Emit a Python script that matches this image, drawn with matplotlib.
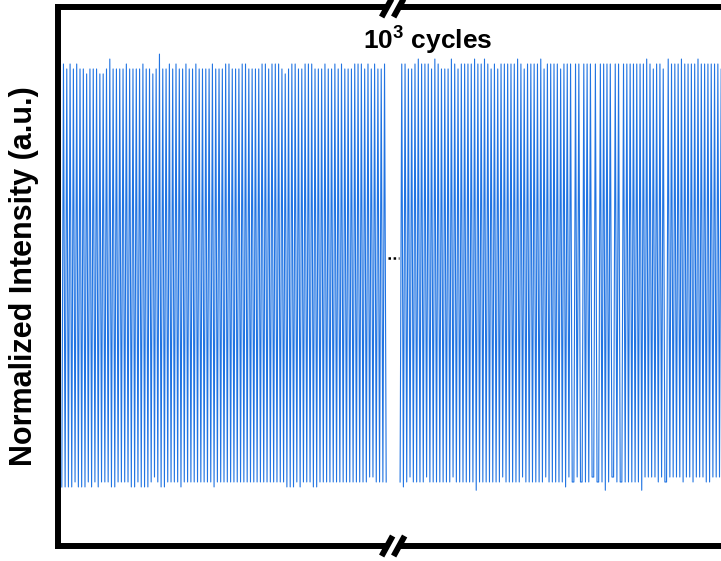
import numpy as np
import matplotlib
matplotlib.use('Agg')
import matplotlib.pyplot as plt

#==============================================================================
# Data (normalized intensity per cycle)
#==============================================================================
# segment before the axis break: peak / trough level of each switching cycle
peaks_1 = [1.012, 1.0, 1.012, 1.0, 1.012, 1.0, 1.0, 0.988, 1.0, 1.0,
           1.0, 0.988, 0.988, 1.0, 1.024, 1.0, 1.0, 1.0, 1.0, 1.012,
           1.0, 1.0, 1.0, 1.0, 1.012, 1.0, 1.0, 0.988, 1.0, 1.036,
           1.0, 1.0, 1.012, 1.0, 1.012, 1.0, 1.0, 1.012, 1.0, 1.0,
           1.012, 1.0, 1.0, 1.0, 1.0, 1.012, 1.0, 1.0, 1.0, 1.012,
           1.012, 1.0, 1.0, 1.0, 1.012, 1.012, 1.0, 1.0, 1.0, 1.0,
           1.012, 1.012, 1.0, 1.012, 1.012, 1.012, 1.0, 0.988, 1.0, 1.012,
           1.012, 1.0, 1.0, 1.012, 1.012, 1.012, 1.0, 1.0, 1.0, 1.012,
           1.0, 1.0, 1.012, 1.0, 1.012, 1.0, 1.0, 1.0, 1.012, 1.012,
           1.012, 1.0, 1.012, 1.0, 1.012, 1.0, 1.0, 1.012]
troughs_1 = [-0.012, -0.012, -0.012, -0.012, 0.0, -0.012, -0.012, -0.012, 0.0, -0.012,
             0.0, -0.012, 0.0, 0.0, 0.0, -0.012, -0.012, 0.0, 0.0, 0.0,
             0.0, -0.012, -0.012, 0.0, -0.012, -0.012, -0.012, 0.0, 0.012, 0.0,
             -0.012, -0.012, 0.0, 0.0, 0.0, 0.0, -0.012, 0.0, 0.0, 0.0,
             0.0, 0.0, 0.0, 0.0, 0.0, 0.0, -0.012, 0.0, 0.0, 0.0,
             0.0, 0.0, 0.0, 0.0, 0.0, 0.0, 0.0, 0.0, 0.0, 0.0,
             0.0, 0.0, 0.0, 0.0, 0.0, 0.0, 0.0, 0.0, -0.012, -0.012,
             -0.012, 0.0, -0.012, 0.0, 0.0, 0.0, -0.012, -0.012, 0.0, 0.0,
             0.0, 0.0, 0.0, 0.0, 0.0, 0.0, 0.0, 0.0, 0.0, 0.0,
             0.0, 0.0, 0.0, 0.012, 0.012, 0.0, 0.0, 0.0, 0.0]

# segment after 10^3 cycles
peaks_2 = [1.012, 1.012, 1.0, 1.0, 1.012, 1.024, 1.012, 1.012, 1.012, 1.0,
           1.024, 1.012, 1.0, 1.0, 1.0, 1.024, 1.012, 1.0, 1.012, 1.012,
           1.012, 1.012, 1.024, 1.012, 1.012, 1.024, 1.012, 1.0, 1.012, 1.0,
           1.012, 1.012, 1.012, 1.012, 1.012, 1.024, 1.012, 1.0, 1.012, 1.012,
           1.012, 1.012, 1.024, 1.0, 1.012, 1.012, 1.012, 1.012, 1.0, 1.012,
           1.012, 1.012, 1.012, 1.012, 1.012, 1.012, 1.012, 1.012, 1.012, 1.012,
           1.012, 1.012, 1.012, 1.012, 1.012, 1.012, 1.012, 1.012, 1.012, 1.012,
           1.012, 1.024, 1.012, 1.0, 1.012, 1.012, 1.0, 1.024, 1.012, 1.012,
           1.012, 1.024, 1.012, 1.012, 1.012, 1.012, 1.024, 1.012, 1.012, 1.012,
           1.012, 1.012, 1.012, 1.0, 1.012, 1.012, 1.024, 1.012, 1.012, 1.012]
troughs_2 = [0.0, -0.012, 0.0, 0.012, 0.0, 0.0, 0.0, 0.0, 0.012, 0.0,
             0.0, 0.0, 0.0, 0.0, 0.0, 0.0, 0.012, 0.0, 0.0, 0.0,
             0.0, 0.0, 0.0, -0.02, 0.0, 0.0, 0.0, 0.0, 0.0, 0.0,
             0.0, 0.012, 0.0, 0.0, 0.0, 0.0, 0.0, 0.012, 0.0, 0.0,
             0.0, 0.0, 0.0, 0.0, 0.012, 0.0, 0.0, 0.0, 0.0, 0.0,
             -0.012, 0.012, 0.0, 0.012, 0.0, 0.0, 0.0, 0.012, 0.0, 0.0,
             -0.02, 0.0, 0.012, 0.0, 0.0, 0.0, 0.0, 0.0, 0.0, 0.0,
             -0.02, 0.012, 0.012, 0.012, 0.012, 0.0, 0.012, 0.0, 0.012, 0.012,
             0.012, 0.012, 0.0, 0.012, 0.012, 0.0, 0.012, 0.012, 0.012, 0.0,
             0.0, 0.012, 0.012, 0.012, 0.012, 0.012, 0.0, 0.012, 0.012, 0.012,
             0.012]
# cycles of segment 2 followed by a slightly longer pause
pauses_2 = [51, 53, 56, 57, 61, 63, 76]
pause_len = 0.5

seg2_start = 102.2      # cycle axis position where the 2nd segment begins
cycles_text = r'$10^3$ cycles'
ylabel_text = 'Normalized Intensity (a.u.)'

line_color = '#2174e2'

#==============================================================================
# Build triangle-like switching trace from per-cycle peak/trough levels
def trace(troughs, peaks, start, pauses=(), pause=0.5):
    x, y = [], []
    t = start
    for i in range(len(peaks)):
        x += [t, t + 0.5]
        y += [troughs[i], peaks[i]]
        t += 1.0
        if i in pauses:
            x.append(t)
            y.append(troughs[i + 1])
            t += pause
    x.append(t)
    y.append(troughs[len(peaks)])
    return np.array(x), np.array(y)
#==============================================================================

plt.rcParams['font.family'] = 'Liberation Sans'
plt.rcParams['mathtext.fontset'] = 'custom'
plt.rcParams['mathtext.rm'] = 'Liberation Sans:bold'
plt.rcParams['mathtext.bf'] = 'Liberation Sans:bold'
plt.rcParams['mathtext.default'] = 'bf'

W, H = 721, 561
fig = plt.figure(figsize=(W / 100, H / 100), dpi=100)
# axes box in pixels: left spine at 58, top 7, bottom 546, right edge off-canvas
ax = fig.add_axes([58 / W, (H - 546) / H, (745 - 58) / W, (546 - 7) / H])

x1, y1 = trace(troughs_1, peaks_1, 0.0)
x2, y2 = trace(troughs_2, peaks_2, seg2_start, pauses_2, pause_len)
ax.plot(x1, y1, color=line_color, lw=0.8)
ax.plot(x2, y2, color=line_color, lw=0.8)

ax.set_xlim(-1.15, 206.4)
ax.set_ylim(-0.155, 1.150)

# dotted bridge across the break
seg1_end = x1[-1]
ax.plot([seg1_end + 0.6, seg2_start - 0.2], [0.542, 0.542], color='black',
        lw=1.8, linestyle=(0, (1, 1.05)), dash_capstyle='butt')

for s in ax.spines.values():
    s.set_linewidth(4.3)
    s.set_color('black')
ax.set_xticks([])
ax.set_yticks([])

# axis break marks "//" on top and bottom spines
xl = ax.get_xlim()
cx = ((seg1_end + seg2_start) / 2 - xl[0]) / (xl[1] - xl[0])
aw, ah = (745 - 58), (546 - 7)
off = 6.0 / aw
dx, dy = 5.5 / aw, 10.0 / ah
for yb in (0.0, 1.0):
    ax.plot([cx - off, cx + off], [yb, yb], color='white', lw=5.5,
            transform=ax.transAxes, clip_on=False, zorder=5,
            solid_capstyle='butt')
    for c in (cx - off, cx + off):
        ax.plot([c - dx, c + dx], [yb - dy, yb + dy], color='black', lw=4.3,
                transform=ax.transAxes, clip_on=False, zorder=6,
                solid_capstyle='butt')

ax.text(110.6, 1.067, cycles_text, ha='center', va='center', fontsize=19,
        fontweight='bold')

fig.text(24 / W, 1 - 276 / H, ylabel_text, rotation=90, ha='center',
         va='center', fontsize=22, fontweight='bold')

fig.savefig('out.png', dpi=100)
